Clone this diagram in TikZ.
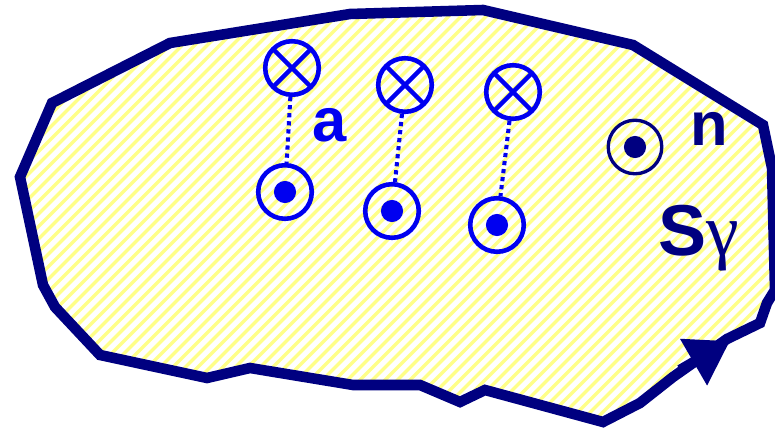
\documentclass[tikz,border=0pt]{standalone}
\usepackage{fontspec}
\setmainfont{Liberation Sans}
\newfontfamily\greekfont{Liberation Serif}
\usepackage{xcolor}
\usetikzlibrary{arrows.meta}
\definecolor{navy}{RGB}{0,0,128}
\definecolor{pureblue}{RGB}{0,0,240}
\definecolor{paleyellow}{RGB}{255,255,136}
\newcommand\surfpath{(20,177) -- (52,103) -- (170,43) -- (350,14) -- (483,10) -- (633,45)
  -- (763,125) -- (772,168) -- (775,290) -- (767,303) -- (760,323)
  -- (727,339) -- (673,377) -- (640,403) -- (603,422) -- (485,390)
  -- (460,402) -- (420,385) -- (353,385) -- (250,368) -- (207,378)
  -- (100,355) -- (55,307) -- (43,285) -- cycle}

\begin{document}
\begin{tikzpicture}[x=0.02cm, y=-0.02cm,
  every node/.style={inner sep=0pt},
  into/.style={draw=pureblue, circle, line width=2.6pt, minimum size=30.5pt,
    path picture={\draw[pureblue, line width=2.6pt]
      (path picture bounding box.north west) -- (path picture bounding box.south east)
      (path picture bounding box.north east) -- (path picture bounding box.south west);}},
  outof/.style={draw=#1, circle, line width=2.6pt, minimum size=30.5pt,
    path picture={\fill[#1] (path picture bounding box.center) circle (6.3pt);}},
  outof/.default=pureblue,
  link/.style={pureblue, line width=2.3pt, dash pattern=on 2.4pt off 2.2pt},
  lbl/.style={font=\fontsize{35}{40}\selectfont\bfseries}]
\useasboundingbox (0,0) rectangle (775,428);
% surface S, hatched
\begin{scope}
  \clip \surfpath;
  \foreach \k in {-440,-427.5,...,780}
    \draw[paleyellow, line width=2pt] (\k,430) -- ++(430,-430);
\end{scope}
\draw[navy, line width=6pt, line join=miter] \surfpath;
% orientation of the contour
\coordinate (ta) at (680,370);
\coordinate (tb) at (730,341);
\draw[navy, line width=6pt, -{Triangle[length=24pt, width=29pt]}] (ta) -- (tb);
% currents into and out of the surface
\node[into] (x1) at (292,68) {};
\node[into] (x2) at (405,85) {};
\node[into] (x3) at (513,92) {};
\node[outof] (o1) at (285,192) {};
\node[outof] (o2) at (392,211) {};
\node[outof] (o3) at (497,225) {};
\node[outof=navy, line width=1.9pt] (o4) at (635,147) {};
\draw[link] (x1) -- (o1);
\draw[link] (x2) -- (o2);
\draw[link] (x3) -- (o3);
% labels
\node[lbl, pureblue] (a) at (330,125) {a};
\node[lbl, navy] (n) at (709,129) {n};
\node[lbl, navy, anchor=base west, font=\fontsize{41}{44}\selectfont\bfseries]
  (s) at (658,256) {S{\mdseries\greekfont\fontsize{42}{44}\selectfont γ}};
\end{tikzpicture}
\end{document}
